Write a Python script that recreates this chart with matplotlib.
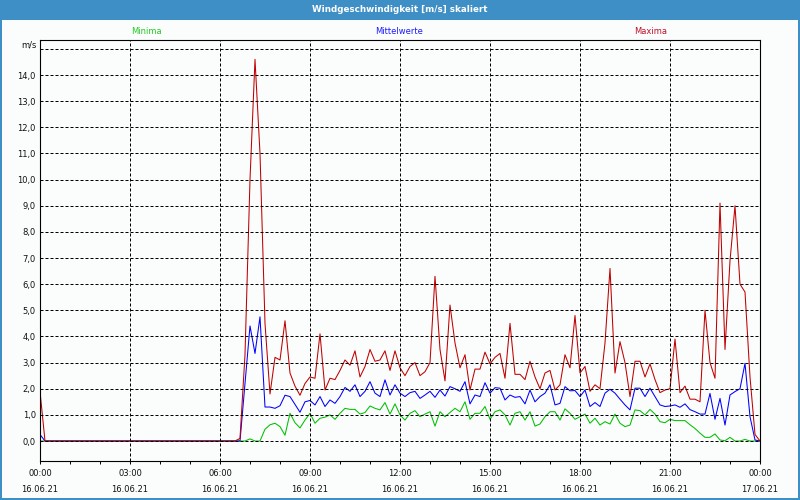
import numpy as np
import matplotlib
matplotlib.use("Agg")
import matplotlib.pyplot as plt
from matplotlib.patches import Rectangle

title = "Windgeschwindigkeit [m/s] skaliert"
series_names = ["Minima", "Mittelwerte", "Maxima"]
y_unit = "m/s"
interval_minutes = 10
x_tick_hours = [0, 3, 6, 9, 12, 15, 18, 21, 24]
time_labels = ["00:00", "03:00", "06:00", "09:00", "12:00", "15:00", "18:00", "21:00", "00:00"]
date_labels = ["16.06.21"] * 8 + ["17.06.21"]
y_tick_values = list(range(0, 15))

maxima = [
    1.9, 0, 0, 0, 0, 0, 0, 0, 0, 0,
    0, 0, 0, 0, 0, 0, 0, 0, 0, 0,
    0, 0, 0, 0, 0, 0, 0, 0, 0, 0,
    0, 0, 0, 0, 0, 0, 0, 0, 0, 0,
    0.1, 3.3, 10.0, 14.6, 11.0, 4.5, 1.8, 3.2, 3.1, 4.6,
    2.6, 2.1, 1.75, 2.2, 2.45, 2.4, 4.1, 1.95, 2.4, 2.35,
    2.7, 3.1, 2.9, 3.45, 2.45, 2.85, 3.5, 3.05, 3.1, 3.45,
    2.7, 3.45, 2.8, 2.5, 2.85, 3.0, 2.5, 2.65, 3.0, 6.3,
    3.5, 2.3, 5.2, 3.75, 2.8, 3.3, 1.95, 2.75, 2.75, 3.4,
    2.95, 3.2, 3.35, 2.4, 4.5, 2.55, 2.55, 2.35, 3.05, 2.45,
    2.0, 2.6, 2.7, 1.95, 2.15, 3.3, 2.8, 4.8, 2.6, 2.85,
    1.9, 2.15, 2.0, 3.75, 6.6, 2.6, 3.8, 3.0, 1.7, 3.05,
    3.05, 2.45, 2.95, 2.35, 1.85, 1.95, 2.0, 3.9, 1.85, 2.1,
    1.6, 1.6, 1.5, 5.0, 3.0, 2.4, 9.1, 3.5, 6.9, 9.0,
    6.0, 5.7, 2.45, 0.25, 0.0,
]

mittelwerte = [
    0.25, 0, 0, 0, 0, 0, 0, 0, 0, 0,
    0, 0, 0, 0, 0, 0, 0, 0, 0, 0,
    0, 0, 0, 0, 0, 0, 0, 0, 0, 0,
    0, 0, 0, 0, 0, 0, 0, 0, 0, 0,
    0.0, 2.2, 4.4, 3.35, 4.75, 1.3, 1.3, 1.25, 1.35, 1.75,
    1.7, 1.4, 1.1, 1.5, 1.55, 1.38, 1.7, 1.32, 1.57, 1.44,
    1.7, 2.05, 1.9, 2.15, 1.7, 1.9, 2.27, 1.83, 1.7, 2.34,
    1.76, 2.15, 1.83, 1.7, 1.85, 1.9, 1.63, 1.76, 1.9, 1.67,
    1.95, 1.72, 2.08, 2.0, 1.9, 2.27, 1.42, 1.76, 1.7, 2.23,
    1.83, 2.04, 2.02, 1.57, 1.76, 1.67, 1.7, 1.42, 1.95, 1.5,
    1.7, 1.83, 2.15, 1.38, 1.44, 2.08, 1.92, 1.93, 1.7, 1.95,
    1.32, 1.47, 1.32, 1.83, 1.98, 1.83, 1.6, 1.38, 1.19, 2.02,
    2.02, 1.7, 2.02, 1.7, 1.38, 1.32, 1.34, 1.38, 1.29, 1.42,
    1.2, 1.12, 1.03, 1.03, 1.82, 0.83, 1.63, 0.61, 1.76, 1.89,
    2.0, 2.97, 0.93, 0.04, 0.0,
]

minima = [
    0, 0, 0, 0, 0, 0, 0, 0, 0, 0,
    0, 0, 0, 0, 0, 0, 0, 0, 0, 0,
    0, 0, 0, 0, 0, 0, 0, 0, 0, 0,
    0, 0, 0, 0, 0, 0, 0, 0, 0, 0,
    0, 0, 0.08, 0, 0, 0.45, 0.62, 0.68, 0.55, 0.22,
    1.06, 0.7, 0.5, 0.8, 1.06, 0.68, 0.87, 0.91, 1.0, 0.83,
    1.06, 1.25, 1.21, 1.21, 1.03, 1.09, 1.34, 1.25, 1.19, 1.47,
    1.03, 1.42, 1.0, 0.8, 1.06, 1.16, 0.93, 1.03, 1.12, 0.57,
    1.12, 0.93, 1.09, 1.25, 1.12, 1.5, 0.83, 1.06, 1.06, 1.32,
    0.83, 1.12, 1.19, 1.0, 0.61, 1.06, 1.12, 0.8, 1.12, 0.57,
    0.65, 0.93, 1.12, 1.12, 0.8, 1.23, 1.06, 0.83, 0.93, 1.03,
    0.68, 0.87, 0.61, 0.74, 0.65, 1.03, 0.68, 0.55, 0.61, 1.19,
    1.16, 1.0, 1.21, 1.03, 0.74, 0.7, 0.83, 0.78, 0.78, 0.78,
    0.62, 0.48, 0.3, 0.14, 0.14, 0.27, 0.04, 0.01, 0.14, 0.0,
    0.0, 0.06, 0.0, 0.0, 0.0,
]

hours = np.arange(len(maxima)) * interval_minutes / 60.0

W, H = 800, 500
fig = plt.figure(figsize=(W / 100, H / 100), dpi=100, facecolor="#fbfcfc")

frame_blue = "#3d8fc6"
fig.patches.append(Rectangle((0, 1 - 20 / H), 1, 20 / H, transform=fig.transFigure,
                             facecolor=frame_blue, edgecolor="none", zorder=0))
fig.patches.append(Rectangle((0, 0), 2 / W, 1, transform=fig.transFigure,
                             facecolor=frame_blue, edgecolor="none"))
fig.patches.append(Rectangle((1 - 2 / W, 0), 2 / W, 1, transform=fig.transFigure,
                             facecolor=frame_blue, edgecolor="none"))
fig.patches.append(Rectangle((0, 0), 1, 2 / H, transform=fig.transFigure,
                             facecolor=frame_blue, edgecolor="none"))

fig.text(0.5, 1 - 10 / H, title, color="white", ha="center", va="center",
         fontsize=6.3, fontweight="bold", family="DejaVu Sans")

legend_colors = ["#22cc22", "#1a1aff", "#c0102a"]
legend_x = [146, 399, 651]
for name, c, xp in zip(series_names, legend_colors, legend_x):
    fig.text(xp / W, 1 - 31 / H, name, color=c, ha="center", va="center",
             fontsize=6, family="DejaVu Sans")

ax = fig.add_axes([40 / W, 39 / H, 720 / W, 421 / H])
ax.set_facecolor("#fbfcfc")

ax.plot(hours, minima, color="#00c000", lw=0.75, zorder=2)
ax.plot(hours, mittelwerte, color="#0000ff", lw=0.75, zorder=2.1)
ax.plot(hours, maxima, color="#c00000", lw=0.75, zorder=2.2)

ax.set_xlim(0, 24)
ax.set_ylim(-0.765, 15.34)

ax.set_xticks(x_tick_hours)
ax.set_xticklabels([f"{t}\n{d}" for t, d in zip(time_labels, date_labels)],
                   fontsize=6, linespacing=2.0, color="#111111", family="DejaVu Sans")
ax.set_xticks(range(0, 25), minor=True)
ax.tick_params(axis="x", which="both", direction="out", length=2, width=0.7, pad=4)

ax.set_yticks(y_tick_values + [15])
ax.set_yticklabels([f"{v:.1f}".replace(".", ",") for v in y_tick_values] + [""],
                   fontsize=6, color="#111111", family="DejaVu Sans")
ax.tick_params(axis="y", length=0, pad=3)
fig.text(37 / W, 1 - 45 / H, y_unit, ha="right", va="center", fontsize=6,
         color="#111111", family="DejaVu Sans")

ax.grid(True, which="major", color="black", linestyle=(0, (3, 2)), linewidth=0.72)
ax.set_axisbelow(False)
for s in ax.spines.values():
    s.set_color("black")
    s.set_linewidth(0.8)

fig.savefig("out.png", dpi=100, facecolor=fig.get_facecolor())
